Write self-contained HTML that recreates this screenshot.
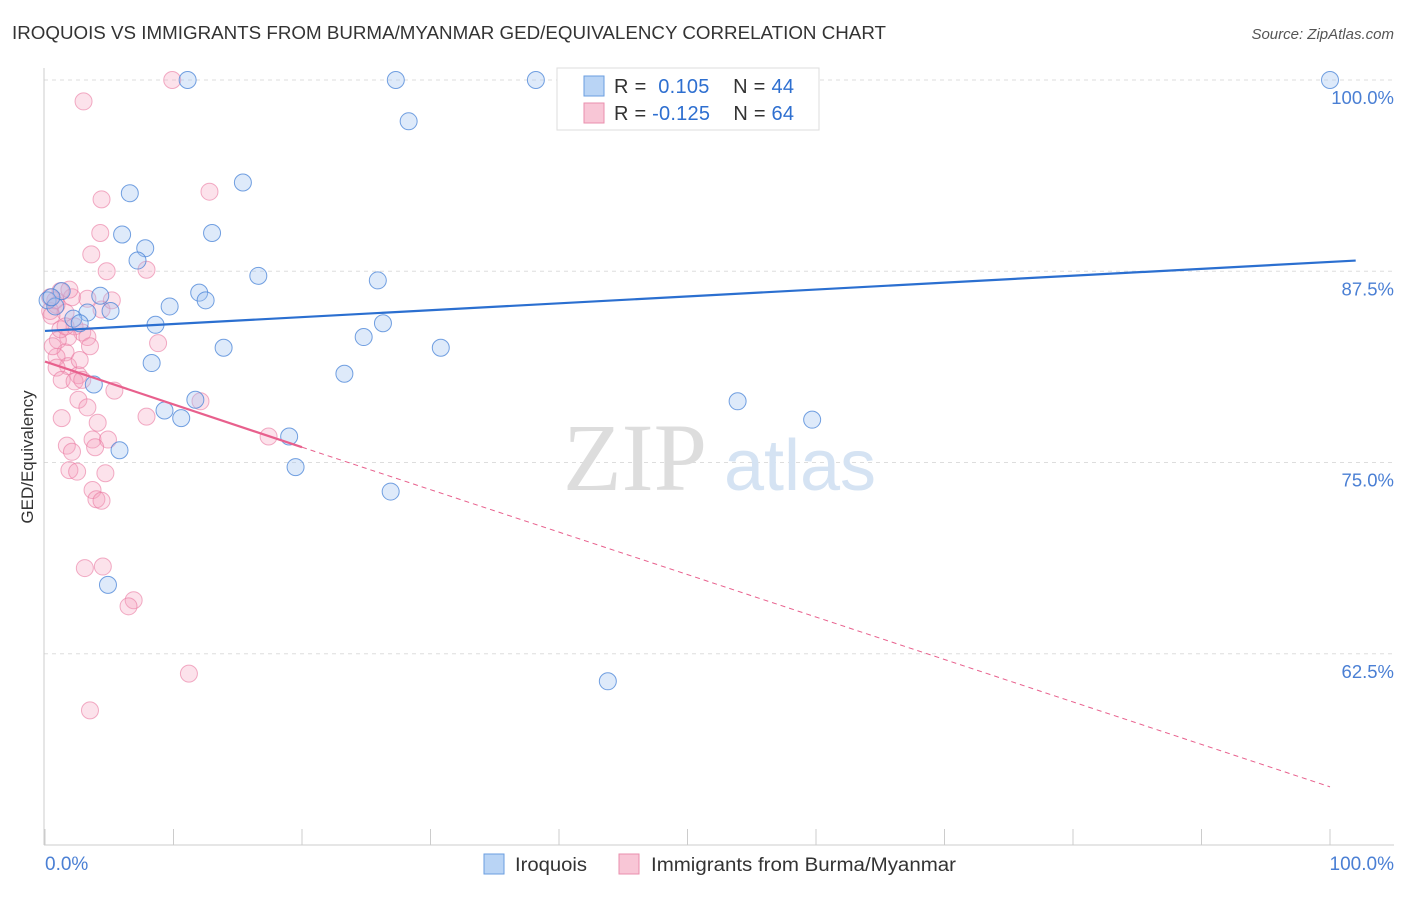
<!DOCTYPE html>
<html><head><meta charset="utf-8"><style>
body{margin:0;background:#fff;font-family:"Liberation Sans",sans-serif}
</style></head><body>
<svg width="1406" height="892" xmlns="http://www.w3.org/2000/svg" font-family="Liberation Sans, sans-serif">
<text x="12" y="39" font-size="18" fill="#333" textLength="874" lengthAdjust="spacingAndGlyphs">IROQUOIS VS IMMIGRANTS FROM BURMA/MYANMAR GED/EQUIVALENCY CORRELATION CHART</text>
<text x="1394" y="39" font-size="15" fill="#555" font-style="italic" text-anchor="end">Source: ZipAtlas.com</text>
<g id="grid"></g>
<text x="635" y="490" font-size="96" fill="#ddd" font-family="Liberation Serif, serif" text-anchor="middle">ZIP</text>
<text x="800" y="490" font-size="72" fill="#d5e3f3" text-anchor="middle">atlas</text>
<line x1="44" y1="68" x2="44" y2="845" stroke="#ccc"/>
<line x1="44" y1="845" x2="1394" y2="845" stroke="#ccc"/>
<g id="marks"></g>
<text x="33" y="457" font-size="17" fill="#333" transform="rotate(-90 33 457)" text-anchor="middle">GED/Equivalency</text>
<text x="45" y="870" font-size="19" fill="#4a7fd4">0.0%</text>
<text x="1394" y="870" font-size="19" fill="#4a7fd4" text-anchor="end">100.0%</text>
<g>
<rect x="557" y="68" width="262" height="62" fill="#fff" stroke="#ddd"/>
<rect x="584" y="76" width="20" height="20" fill="#b9d4f5" stroke="#6a9ee0"/>
<rect x="584" y="103" width="20" height="20" fill="#f8c6d6" stroke="#ea8fad"/>
<text x="614" y="93" font-size="20" fill="#333" textLength="180" lengthAdjust="spacing">R = <tspan fill="#2e6fd0">&#160;0.105</tspan>&#160;&#160;&#160;&#160;N = <tspan fill="#2e6fd0">44</tspan></text>
<text x="614" y="120" font-size="20" fill="#333" textLength="180" lengthAdjust="spacing">R = <tspan fill="#2e6fd0">-0.125</tspan>&#160;&#160;&#160;&#160;N = <tspan fill="#2e6fd0">64</tspan></text>
</g>
<g>
<rect x="484" y="854" width="20" height="20" fill="#b9d4f5" stroke="#6a9ee0"/>
<text x="515" y="871" font-size="19" fill="#333" textLength="72" lengthAdjust="spacingAndGlyphs">Iroquois</text>
<rect x="619" y="854" width="20" height="20" fill="#f8c6d6" stroke="#ea8fad"/>
<text x="651" y="871" font-size="19" fill="#333" textLength="305" lengthAdjust="spacingAndGlyphs">Immigrants from Burma/Myanmar</text>
</g>
</svg>
<script>
const yTicks=[100,87.5,75,62.5];
const yTickLabels=["100.0%","87.5%","75.0%","62.5%"];
const blueX=[11.1,27.3,38.2,100,28.3,6.6,15.4,6,13,7.8,7.2,16.6,25.9,1.3,4.3,12,12.5,9.7,0.2,0.8,3.3,5.1,2.2,2.7,8.6,26.3,24.8,13.9,30.8,8.3,23.3,3.8,11.7,9.3,10.6,53.9,59.7,19,5.8,19.5,26.9,4.9,43.8,0.5];
const blueY=[100,100,100,100,97.3,92.6,93.3,89.9,90,89,88.2,87.2,86.9,86.2,85.9,86.1,85.6,85.2,85.6,85.2,84.8,84.9,84.4,84.1,84,84.1,83.2,82.5,82.5,81.5,80.8,80.1,79.1,78.4,77.9,79,77.8,76.7,75.8,74.7,73.1,67,60.7,85.8];
const pinkX=[9.9,3,12.8,4.4,4.3,3.6,4.8,7.9,1.2,0.4,2.1,3.3,0.9,0.4,1.6,0.5,4.4,2.3,2.9,1.8,3.3,1,3.5,8.8,1.6,0.9,1.8,0.9,2.6,1.3,2.3,5.4,2.6,3.3,7.9,12.1,1.3,4.1,3.7,4.9,1.7,3.9,2.1,17.4,4.7,1.9,2.5,3.7,4.0,4.4,3.1,4.5,6.9,6.5,11.2,3.5,1.2,2.7,1.6,0.8,1.9,5.2,2.9,0.6];
const pinkY=[100,98.6,92.7,92.2,90,88.6,87.5,87.6,86.2,85.8,85.8,85.7,85.3,84.9,84.8,84.6,85,83.9,83.5,83.2,83.2,83,82.6,82.8,82.2,81.9,81.3,81.2,80.7,80.4,80.3,79.7,79.1,78.6,78,79,77.9,77.6,76.5,76.5,76.1,76,75.7,76.7,74.3,74.5,74.4,73.2,72.6,72.5,68.1,68.2,66,65.6,61.2,58.8,83.7,81.7,83.9,85.6,86.3,85.6,80.4,82.6];
const X=v=>45+v*12.85, Y=v=>80+(100-v)*15.3;
const ns="http://www.w3.org/2000/svg";
const grid=document.getElementById('grid'), marks=document.getElementById('marks');
function mk(tag,attrs,parent){const e=document.createElementNS(ns,tag);for(const k in attrs)e.setAttribute(k,attrs[k]);parent.appendChild(e);return e;}
yTicks.forEach((t,i)=>{
 const l=mk('line',{x1:44,x2:1394,y1:Y(t),y2:Y(t),stroke:'#ddd','stroke-dasharray':'4 4'},grid);
 
 
 const tx=mk('text',{x:1394,y:Y(t)+24,'font-size':18.5,fill:'#4a7fd4','text-anchor':'end'},grid);
 tx.textContent=yTickLabels[i];
 
 
});
for(let i=0;i<=10;i++){
 const l=mk('line',{x1:X(i*10),x2:X(i*10),y1:829,y2:845,stroke:'#ccc'},grid);
 
 
}
pinkX.forEach((x,i)=>{
 const c=mk('circle',{cx:X(x),cy:Y(pinkY[i]),r:8.5,fill:'rgba(244,160,188,0.3)',stroke:'rgba(234,120,160,0.6)','stroke-width':1},marks);
 
 
});
blueX.forEach((x,i)=>{
 const c=mk('circle',{cx:X(x),cy:Y(blueY[i]),r:8.5,fill:'rgba(160,196,240,0.35)',stroke:'rgba(70,130,215,0.75)','stroke-width':1},marks);
 
 
});
const bl=mk('line',{x1:X(0),y1:Y(83.6),x2:X(102),y2:Y(88.2),stroke:'#2b6fd0','stroke-width':2.2},marks);


const pl=mk('line',{x1:X(0),y1:Y(81.6),x2:X(20),y2:Y(76),stroke:'#e8608d','stroke-width':2.2},marks);


const pd=mk('line',{x1:X(20),y1:Y(76),x2:X(100),y2:Y(53.8),stroke:'#e8608d','stroke-width':1,'stroke-dasharray':'5 4'},marks);


</script>
</body></html>
